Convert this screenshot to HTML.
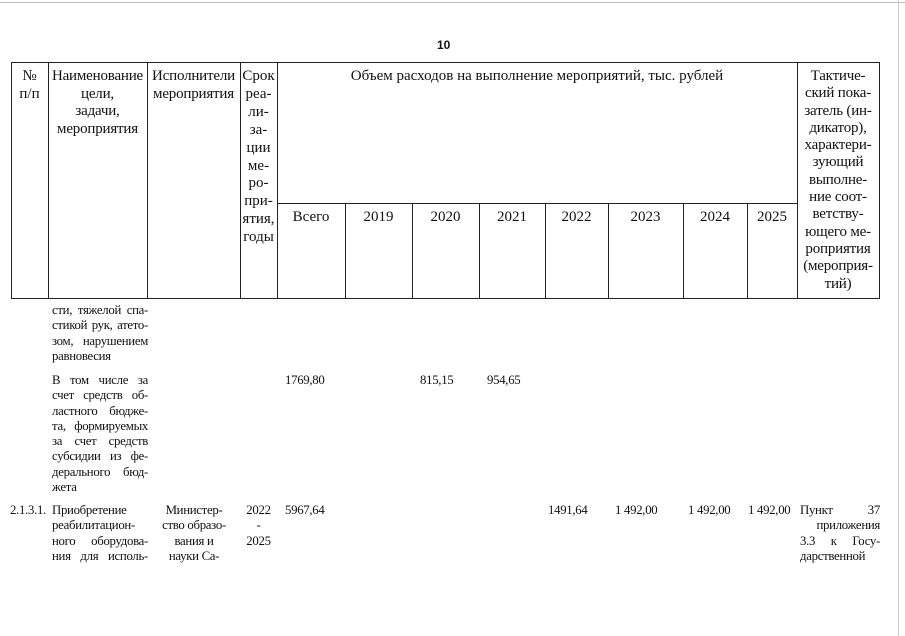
<!DOCTYPE html>
<html><head><meta charset="utf-8"><style>
body{margin:0;width:905px;height:636px;background:#fff;position:relative;overflow:hidden;font-family:"Liberation Serif","Noto Serif CJK SC",serif;color:#111}
.l{position:absolute;background:#222}
.t{position:absolute;font-size:15px;line-height:17.6px;white-space:pre}
.c{text-align:center}
.b{position:absolute;font-size:12.8px;line-height:15.3px;white-space:nowrap;letter-spacing:-0.3px}
.j{text-align:justify;text-align-last:justify}
</style></head><body>
<div class="l" style="left:0;top:2px;width:905px;height:1px;background:#bbb"></div>
<div class="l" style="left:898px;top:0;width:1px;height:636px;background:#ccc"></div>
<div class="t" style="left:437px;top:37px;font-family:'Liberation Sans',sans-serif;font-weight:bold;font-size:12px">10</div>
<div class="l" style="left:11px;top:62px;width:869px;height:1px"></div>
<div class="l" style="left:11px;top:298px;width:869px;height:1px"></div>
<div class="l" style="left:277px;top:203px;width:520px;height:1px"></div>
<div class="l" style="left:11px;top:62px;width:1px;height:237px"></div>
<div class="l" style="left:48px;top:62px;width:1px;height:237px"></div>
<div class="l" style="left:147px;top:62px;width:1px;height:237px"></div>
<div class="l" style="left:240px;top:62px;width:1px;height:237px"></div>
<div class="l" style="left:277px;top:62px;width:1px;height:237px"></div>
<div class="l" style="left:797px;top:62px;width:1px;height:237px"></div>
<div class="l" style="left:879px;top:62px;width:1px;height:237px"></div>
<div class="l" style="left:345px;top:203px;width:1px;height:96px"></div>
<div class="l" style="left:412px;top:203px;width:1px;height:96px"></div>
<div class="l" style="left:479px;top:203px;width:1px;height:96px"></div>
<div class="l" style="left:545px;top:203px;width:1px;height:96px"></div>
<div class="l" style="left:608px;top:203px;width:1px;height:96px"></div>
<div class="l" style="left:683px;top:203px;width:1px;height:96px"></div>
<div class="l" style="left:747px;top:203px;width:1px;height:96px"></div>
<div class="t c" style="left:11px;top:68px;width:37px">№
п/п</div>
<div class="t c" style="left:48px;top:68px;width:99px;letter-spacing:-0.2px">Наименование
цели,
задачи,
мероприятия</div>
<div class="t c" style="left:147px;top:68px;width:93px;letter-spacing:-0.2px">Исполнители
мероприятия</div>
<div class="t c" style="left:240px;top:68px;width:37px;line-height:17.9px">Срок
реа-
ли-
за-
ции
ме-
ро-
при-
ятия,
годы</div>
<div class="t c" style="left:277px;top:68px;width:520px">Объем расходов на выполнение мероприятий, тыс. рублей</div>
<div class="t c" style="left:277px;top:209px;width:68px">Всего</div>
<div class="t c" style="left:345px;top:209px;width:67px">2019</div>
<div class="t c" style="left:412px;top:209px;width:67px">2020</div>
<div class="t c" style="left:479px;top:209px;width:66px">2021</div>
<div class="t c" style="left:545px;top:209px;width:63px">2022</div>
<div class="t c" style="left:608px;top:209px;width:75px">2023</div>
<div class="t c" style="left:683px;top:209px;width:64px">2024</div>
<div class="t c" style="left:747px;top:209px;width:50px">2025</div>
<div class="t c" style="left:797px;top:68px;width:82px;line-height:17.3px;letter-spacing:-0.2px">Тактиче-
ский пока-
затель (ин-
дикатор),
характери-
зующий
выполне-
ние соот-
ветству-
ющего ме-
роприятия
(мероприя-
тий)</div>
<div class="b" style="left:52px;top:303px;width:96px">
<div class="j">сти, тяжелой спа-</div><div class="j">стикой рук, атето-</div><div class="j">зом, нарушением</div><div>равновесия</div></div>
<div class="b" style="left:52px;top:373px;width:96px">
<div class="j">В том числе за</div><div class="j">счет средств об-</div><div class="j">ластного бюдже-</div><div class="j">та, формируемых</div><div class="j">за счет средств</div><div class="j">субсидии из фе-</div><div class="j">дерального бюд-</div><div>жета</div></div>
<div class="b" style="left:285px;top:373px">1769,80</div>
<div class="b" style="left:420px;top:373px">815,15</div>
<div class="b" style="left:487px;top:373px">954,65</div>
<div class="b" style="left:10px;top:503px">2.1.3.1.</div>
<div class="b" style="left:52px;top:503px;width:96px">
<div>Приобретение</div><div class="j">реабилитацион-</div><div class="j">ного оборудова-</div><div class="j">ния для исполь-</div></div>
<div class="b c" style="left:150px;top:503px;width:88px">Министер-<br>ство образо-<br>вания и<br>науки Са-</div>
<div class="b c" style="left:240px;top:503px;width:37px">2022<br>-<br>2025</div>
<div class="b" style="left:285px;top:503px">5967,64</div>
<div class="b" style="left:548px;top:503px">1491,64</div>
<div class="b" style="left:615px;top:503px">1 492,00</div>
<div class="b" style="left:688px;top:503px">1 492,00</div>
<div class="b" style="left:748px;top:503px">1 492,00</div>
<div class="b" style="left:800px;top:503px;width:80px">
<div class="j">Пункт 37</div><div style="text-align:right">приложения</div><div class="j">3.3 к Госу-</div><div class="j">дарственной</div></div>
</body></html>
